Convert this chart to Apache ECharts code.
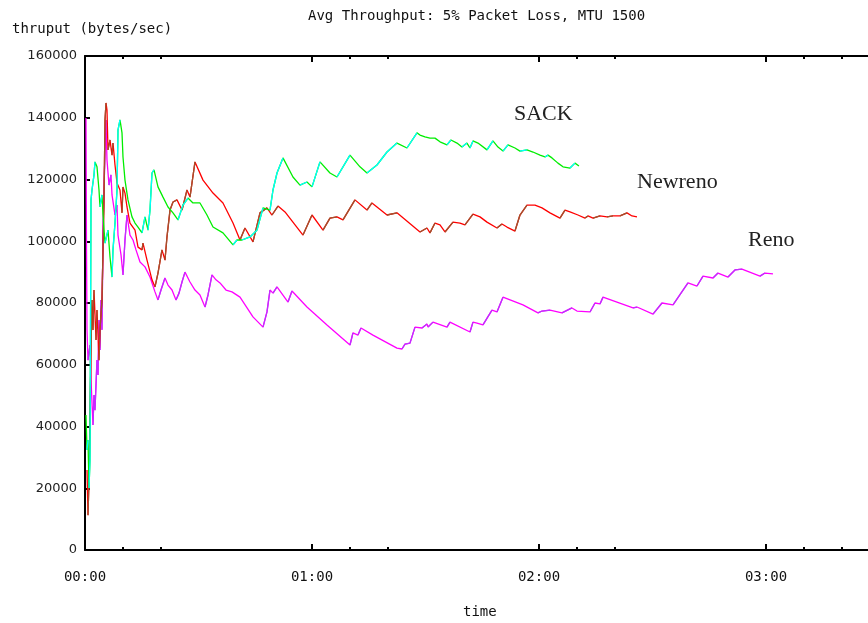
<!DOCTYPE html>
<html>
<head>
<meta charset="utf-8">
<script src="https://cdn.jsdelivr.net/npm/echarts@6/dist/echarts.min.js"></script>
<style>html,body{margin:0;padding:0;background:#fff}#c{width:868px;height:623px}</style>
</head>
<body>
<div id="c"></div>
<script>
// time in minutes, throughput in bytes/sec
const sackX = [0.26,0.53,0.79,1.06,1.32,1.59,1.85,2.38,2.64,3.17,3.70,3.96,4.49,4.76,5.29,6.08,6.61,7.14,7.40,7.93,8.46,8.72,9.25,9.78,10.04,10.57,11.36,12.42,13.22,14.01,15.07,15.86,16.65,17.18,17.71,18.24,19.29,20.62,21.94,23.26,24.58,25.90,27.22,28.54,30.39,32.24,33.83,36.47,39.12,40.17,41.50,43.61,45.46,47.05,48.90,49.69,50.75,52.33,54.97,56.82,58.67,60.00,62.11,64.75,66.60,70.04,72.68,74.53,77.17,79.82,82.46,85.10,87.75,88.54,89.86,91.18,92.51,93.83,95.68,96.73,98.32,99.64,100.96,101.76,102.55,103.87,106.25,107.83,109.16,110.48,111.80,113.65,114.97,116.82,118.41,120.26,121.58,122.37,123.43,125.01,126.34,128.19,129.51,130.56];
const sackY = [43700,32400,35600,20100,29200,113400,116600,121500,125700,124100,116600,111100,115000,108500,99400,103600,94900,88400,97200,105900,116600,136000,139300,135100,127300,119800,113400,107900,105900,104600,102700,107900,103600,110100,122100,123100,117600,114300,111100,109200,106900,111700,114000,112400,112400,108500,104600,102700,98800,100400,100400,101400,103600,110800,110100,116600,122100,127000,120800,118200,119200,117600,125700,122100,120800,127900,124100,122100,124700,128900,131800,130200,135100,134400,133800,133400,133400,132200,131200,132800,131800,130500,131800,130200,132500,131800,129600,132500,130500,129200,131200,130200,129200,129600,128900,127900,127300,127900,127000,125300,124100,123700,125300,124400];

const newrenoX = [0.53,0.79,1.06,1.32,1.59,1.85,2.11,2.38,2.91,3.17,3.70,3.96,4.49,4.76,5.02,5.29,5.55,5.81,6.08,6.61,7.14,7.40,7.93,8.46,9.25,9.78,10.04,10.57,11.10,11.89,13.22,14.01,15.07,15.33,16.39,17.71,18.50,19.29,20.35,21.14,21.67,22.47,23.26,24.32,25.64,26.96,27.75,29.07,31.19,33.83,36.47,39.12,40.97,42.29,44.40,46.25,48.10,49.42,51.01,52.86,57.62,60.00,62.90,64.75,66.60,68.19,71.36,74.53,75.85,79.82,82.46,88.54,90.39,91.18,92.51,93.83,95.15,97.26,99.11,100.43,102.55,104.40,106.25,108.89,110.21,111.53,113.65,114.97,116.82,118.94,120.79,122.90,125.54,126.87,128.19,130.30,132.15,132.95,134.27,136.12,137.97,139.56,141.41,143.26,144.58,145.90];
const newrenoY = [25900,11300,22700,42100,64800,81000,71300,84200,68000,77700,61500,71300,81000,97200,113400,139300,144800,142500,129600,132800,127900,131800,124700,118900,116600,109200,117600,115600,111100,105900,103600,98100,97200,99400,93900,87500,85200,89700,97200,93900,101400,110100,112700,113400,110100,116600,114300,125700,119800,115600,112400,105900,100400,104300,99800,109200,110800,108500,111400,109500,102000,108500,103600,107500,107900,106900,113400,110100,112400,108500,109200,103000,104300,102700,105900,105300,103000,106200,105900,105300,108800,107900,106200,104300,105600,104600,103300,108500,111700,111700,110800,109200,107500,110100,109500,108500,107500,108200,107500,108200,107900,108200,108200,109200,108200,107900];

const renoX = [0.26,0.40,0.53,0.79,1.32,1.59,2.11,2.38,2.64,3.17,3.44,3.70,3.96,4.23,4.49,4.76,5.29,5.55,5.81,6.34,6.87,7.14,7.93,8.46,8.72,9.52,10.04,10.57,11.10,11.89,12.69,13.48,14.54,15.86,17.18,18.50,19.29,20.09,21.14,21.94,23.00,24.05,24.85,25.64,26.43,27.75,29.07,30.39,31.72,32.51,33.57,34.62,35.68,37.27,38.85,40.97,44.40,47.05,48.10,48.90,49.69,50.75,53.66,54.71,58.67,63.96,70.04,70.83,72.15,72.95,76.11,82.46,83.78,84.58,85.90,87.22,89.07,90.40,90.66,91.98,95.68,96.47,101.76,102.55,103.61,105.19,107.57,108.89,110.48,115.76,119.73,120.79,122.90,126.07,128.71,130.04,133.48,134.80,136.12,136.92,144.85,145.90,150.13,152.51,155.42,159.38,161.76,163.35,165.99,167.31,169.96,171.80,173.65,178.41,179.73,181.84];
const renoY = [139900,97200,71300,61500,66400,55100,40500,50200,45300,61500,56700,74500,64800,81000,71300,103600,129600,139300,126300,118200,121500,115000,108500,111700,102000,95600,89100,100400,108500,102000,100400,97200,93300,91700,88400,83600,81000,84200,88100,85800,84200,81000,83200,86800,90000,86800,84200,82600,78700,82600,89100,87500,86500,84200,83600,81900,75500,72200,77100,84200,83200,85200,80300,83900,78700,72900,66400,70300,69600,71900,69600,65400,65100,66700,67000,72200,71900,73200,72200,73800,72200,73800,70600,73800,73500,72900,77700,77100,81900,79400,76800,77400,77700,76800,78400,77400,77100,80000,79700,81900,78400,78700,76400,80000,79400,86500,85500,88700,88100,89700,88400,90700,91000,88700,89700,89400];

const xTickValues = [0, 60, 120, 180, 240];
const xMinorTickValues = [10, 20, 70, 80, 130, 140, 190, 200];
const yTickValues = [0, 20000, 40000, 60000, 80000, 100000, 120000, 140000, 160000];

const titleText = 'Avg Throughput: 5% Packet Loss, MTU 1500';
const yName = 'thruput (bytes/sec)';
const xName = 'time';
const seriesNames = ['SACK', 'Newreno', 'Reno'];

function zip(xs, ys) { return xs.map((x, i) => [x, ys[i]]); }
function rising(pts) {
  const out = [];
  for (let i = 0; i < pts.length - 1; i++) {
    if (pts[i + 1][1] > pts[i][1]) {
      const last = out[out.length - 1];
      if (!last || last[0] !== pts[i][0] || last[1] === '-') out.push(pts[i]);
      out.push(pts[i + 1]);
    } else {
      out.push([pts[i][0], '-']);
    }
  }
  return out;
}
function pad(n) { return (n < 10 ? '0' : '') + n; }
function fmt(v) { return pad(Math.floor(v / 60)) + ':' + pad(Math.round(v % 60)); }

const sack = zip(sackX, sackY), newreno = zip(newrenoX, newrenoY), reno = zip(renoX, renoY);

const mono = 'DejaVu Sans Mono';
function line(name, data, color, z) {
  return { name, type: 'line', data, showSymbol: false, symbol: 'none', connectNulls: false,
    lineStyle: { color, width: 1.3 }, itemStyle: { color }, z, animation: false, silent: true };
}

const baseX = { type: 'value', min: 0, max: 240, interval: 60, splitLine: { show: false } };
const chart = echarts.init(document.getElementById('c'), null, { renderer: 'canvas' });
chart.setOption({
  backgroundColor: '#ffffff',
  animation: false,
  grid: { left: 85, top: 56, width: 908, height: 494, containLabel: false, outerBoundsMode: 'none' },
  xAxis: [
    Object.assign({}, baseX, { position: 'bottom',
      axisLine: { show: true, lineStyle: { color: '#000', width: 2 } },
      axisTick: { show: true, inside: true, length: 6, lineStyle: { color: '#000', width: 2 }, customValues: xTickValues },
      axisLabel: { show: true, margin: 20, color: '#111', fontFamily: mono, fontSize: 14, formatter: fmt, customValues: xTickValues } }),
    Object.assign({}, baseX, { position: 'bottom',
      axisLine: { show: false },
      axisTick: { show: true, inside: true, length: 3, lineStyle: { color: '#000', width: 2 }, customValues: xMinorTickValues },
      axisLabel: { show: false } }),
    Object.assign({}, baseX, { position: 'top',
      axisLine: { show: true, lineStyle: { color: '#000', width: 2 } },
      axisTick: { show: true, inside: true, length: 6, lineStyle: { color: '#000', width: 2 }, customValues: xTickValues },
      axisLabel: { show: false } }),
    Object.assign({}, baseX, { position: 'top',
      axisLine: { show: false },
      axisTick: { show: true, inside: true, length: 3, lineStyle: { color: '#000', width: 2 }, customValues: xMinorTickValues },
      axisLabel: { show: false } })
  ],
  yAxis: [{
    type: 'value', min: 0, max: 160000, interval: 20000, position: 'left',
    splitLine: { show: false },
    axisLine: { show: true, lineStyle: { color: '#000', width: 2 } },
    axisTick: { show: true, inside: true, length: 5, lineStyle: { color: '#000', width: 2 } },
    axisLabel: { margin: 8, color: '#222', fontFamily: 'DejaVu Sans', fontSize: 13, formatter: v => String(v), customValues: yTickValues }
  }],
  graphic: [
    { type: 'text', left: 308, top: 9, style: { text: titleText, font: '14px "DejaVu Sans Mono"', fill: '#111' } },
    { type: 'text', left: 12, top: 22, style: { text: yName, font: '14px "DejaVu Sans Mono"', fill: '#111' } },
    { type: 'text', left: 463, top: 605, style: { text: xName, font: '14px "DejaVu Sans Mono"', fill: '#111' } },
    { type: 'text', left: 514, top: 103, style: { text: seriesNames[0], font: '22px "Liberation Serif"', fill: '#222' } },
    { type: 'text', left: 637, top: 171, style: { text: seriesNames[1], font: '22px "Liberation Serif"', fill: '#222' } },
    { type: 'text', left: 748, top: 229, style: { text: seriesNames[2], font: '22px "Liberation Serif"', fill: '#222' } }
  ],
  series: [
    line('Reno', reno, '#ff00ff', 3),
    line('Reno up', rising(reno), '#c030ff', 4),
    line('Newreno', newreno, '#ff0000', 5),
    line('Newreno up', rising(newreno), '#a0522d', 6),
    line('SACK', sack, '#00ee00', 7),
    line('SACK up', rising(sack), '#00ffff', 8)
  ]
});
</script>
</body>
</html>
